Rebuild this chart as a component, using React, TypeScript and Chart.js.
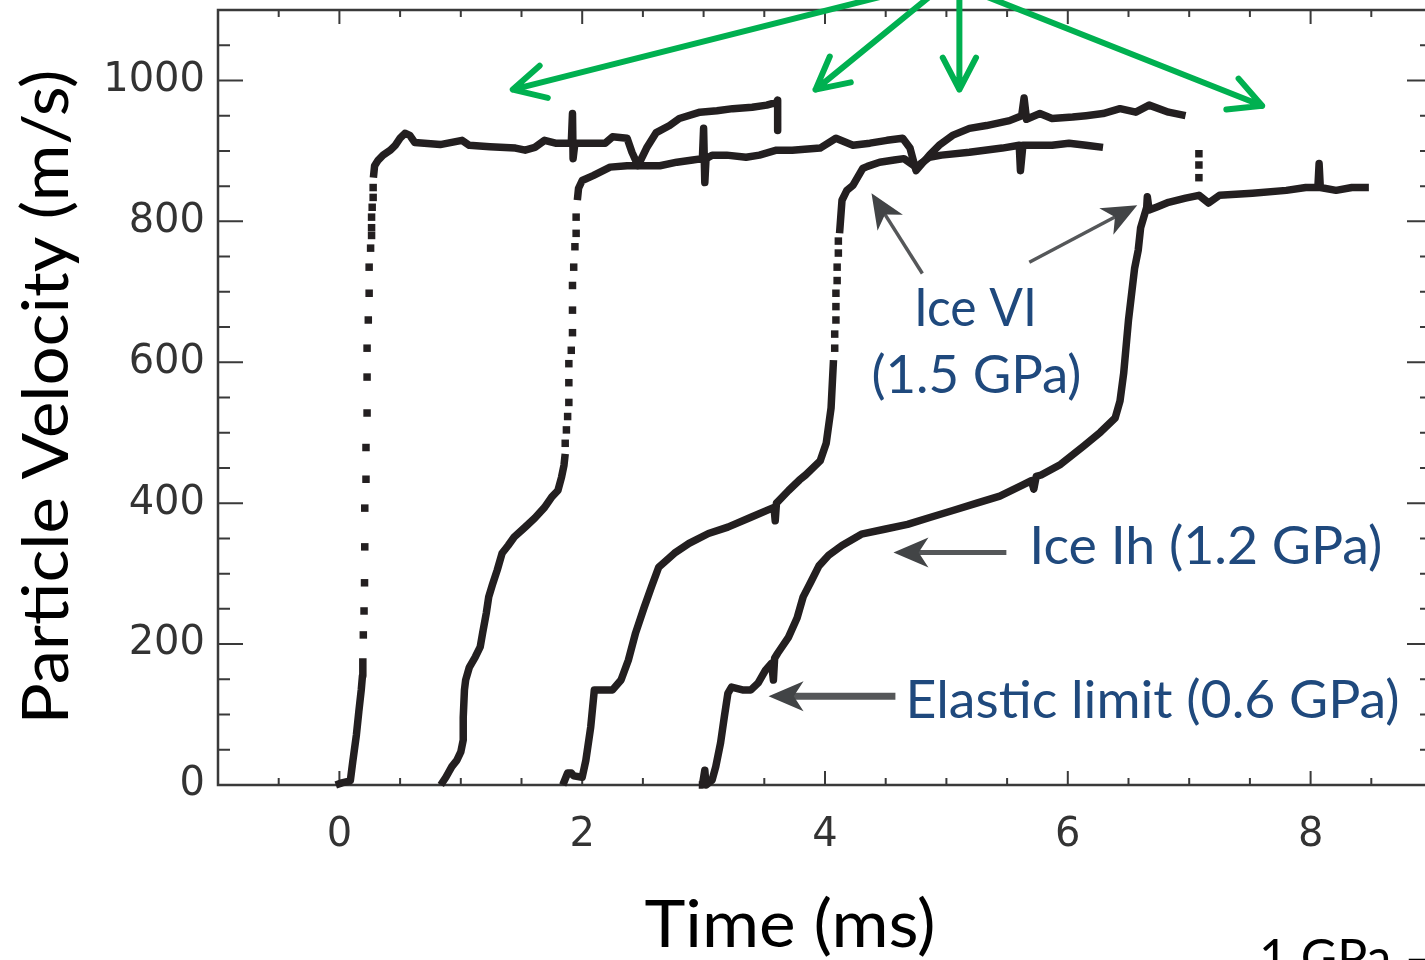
import { useEffect, useRef } from 'react';
import { Chart, registerables } from 'chart.js';

Chart.register(...registerables);

type Pt = [number, number];

// Axis ticks (time in ms, particle velocity in m/s)
const xTicks = [0, 2, 4, 6, 8];
const yTicks = [0, 200, 400, 600, 800, 1000];

// Shot 1
const shot1Foot: Pt[] = [
  [-0.03, 0], [0.02, 3], [0.09, 6], [0.11, 33], [0.14, 71], [0.16, 104], [0.18, 135], [0.19, 155], [0.193, 180],
];
const shot1Dots: Pt[] = [
  [0.197, 213], [0.203, 247], [0.207, 287], [0.209, 338], [0.209, 393], [0.219, 434], [0.219, 479], [0.228, 528],
  [0.228, 579], [0.228, 620], [0.238, 660], [0.245, 698], [0.245, 735], [0.257, 762], [0.265, 780], [0.265, 791],
  [0.265, 806], [0.27, 820], [0.278, 834], [0.278, 848],
];
const shot1Top: Pt[] = [
  [0.28, 862], [0.29, 879], [0.32, 887], [0.36, 894], [0.42, 901], [0.46, 908], [0.5, 918], [0.54, 925], [0.58, 922],
  [0.62, 912], [0.7, 911], [0.83, 909], [1.01, 915], [1.07, 908], [1.24, 906], [1.45, 904], [1.53, 901], [1.61, 905],
  [1.69, 915], [1.78, 911], [1.91, 911], [1.92, 953], [1.925, 889], [1.94, 911], [2.07, 911], [2.19, 911], [2.25, 920],
  [2.37, 918], [2.41, 898], [2.46, 879], [2.53, 904], [2.61, 926], [2.72, 936], [2.8, 946], [2.97, 955], [3.11, 957],
  [3.24, 960], [3.4, 962], [3.52, 965], [3.6, 969], [3.61, 972], [3.61, 929],
];

// Shot 2
const shot2Foot: Pt[] = [
  [0.835, 0], [0.877, 11], [0.926, 26], [0.967, 35], [1.0, 47], [1.02, 64], [1.02, 96], [1.03, 135], [1.04, 149],
  [1.07, 167], [1.12, 182], [1.16, 196], [1.18, 216], [1.21, 244], [1.23, 267], [1.26, 284], [1.3, 305], [1.34, 329],
  [1.39, 340], [1.44, 352], [1.53, 366], [1.61, 379], [1.69, 394], [1.75, 409], [1.8, 418], [1.83, 437], [1.85, 454],
  [1.86, 470],
];
const shot2Dots: Pt[] = [
  [1.86, 485], [1.87, 504], [1.88, 523], [1.89, 543], [1.89, 571], [1.89, 598], [1.91, 617], [1.92, 642], [1.92, 674],
  [1.92, 709], [1.93, 735], [1.94, 764], [1.95, 783], [1.95, 806],
];
const shot2Top: Pt[] = [
  [1.96, 830], [1.97, 847], [2.0, 858], [2.09, 865], [2.23, 877], [2.37, 879], [2.47, 879], [2.64, 879], [2.78, 884],
  [2.91, 887], [2.99, 889], [3.0, 932], [3.01, 855], [3.02, 889], [3.07, 894], [3.19, 894], [3.35, 891], [3.46, 894],
  [3.6, 901], [3.73, 901], [3.96, 904], [4.09, 918], [4.23, 908], [4.37, 911], [4.51, 915], [4.64, 918], [4.7, 904],
  [4.75, 872], [4.86, 894], [4.94, 908], [5.05, 922], [5.19, 932], [5.33, 936], [5.52, 943], [5.62, 950], [5.64, 975],
  [5.66, 945], [5.77, 953], [5.87, 946], [6.04, 948], [6.15, 950], [6.29, 953], [6.43, 960], [6.56, 955], [6.67, 965],
  [6.83, 955], [6.97, 950],
];

// Shot 3
const shot3Foot: Pt[] = [
  [1.84, 0], [1.88, 17], [1.91, 17], [1.93, 13], [2.0, 11], [2.03, 35], [2.07, 82], [2.1, 135], [2.14, 135],
  [2.25, 135], [2.32, 149], [2.38, 177], [2.44, 216], [2.51, 252], [2.57, 281], [2.63, 309], [2.76, 329], [2.88, 343],
  [3.04, 357], [3.2, 366], [3.39, 380], [3.58, 394], [3.59, 375], [3.6, 400], [3.7, 418], [3.79, 433], [3.84, 440],
  [3.96, 460], [4.01, 485], [4.05, 535], [4.07, 603],
];
const shot3Dots: Pt[] = [
  [4.08, 620], [4.08, 640], [4.09, 660], [4.09, 679], [4.09, 698], [4.1, 716], [4.1, 735], [4.11, 755], [4.11, 772],
];
const shot3Top: Pt[] = [
  [4.12, 783], [4.14, 830], [4.18, 844], [4.23, 851], [4.31, 875], [4.35, 878], [4.45, 884], [4.57, 887], [4.65, 889],
  [4.75, 877], [4.86, 891], [4.96, 894], [5.19, 898], [5.46, 904], [5.6, 908], [5.61, 872], [5.63, 908], [5.87, 908],
  [6.01, 911], [6.15, 908], [6.29, 905],
];

// Shot 4
const shot4Trace: Pt[] = [
  [2.96, 0], [2.99, 0], [3.01, 21], [3.02, 0], [3.07, 7], [3.1, 26], [3.14, 60], [3.17, 96], [3.2, 130], [3.23, 139],
  [3.32, 135], [3.39, 135], [3.45, 145], [3.51, 163], [3.56, 173], [3.575, 149], [3.585, 180], [3.61, 187], [3.7, 210],
  [3.77, 237], [3.82, 267], [3.88, 287], [3.95, 311], [4.03, 326], [4.14, 340], [4.3, 356], [4.49, 363], [4.68, 370],
  [4.87, 380], [5.06, 390], [5.25, 400], [5.44, 410], [5.63, 426], [5.7, 432], [5.72, 420], [5.74, 438], [5.78, 440],
  [5.94, 455], [6.13, 481], [6.27, 501], [6.39, 521], [6.43, 545], [6.46, 584], [6.5, 660], [6.55, 733], [6.58, 759],
  [6.6, 791], [6.65, 820], [6.655, 835], [6.67, 816], [6.73, 820], [6.83, 827], [6.97, 833], [7.08, 837], [7.16, 826],
  [7.25, 837], [7.52, 840], [7.8, 844], [7.96, 848], [8.06, 848], [8.07, 882], [8.08, 848], [8.21, 844], [8.34, 848],
  [8.48, 848],
];
const shot4Dots: Pt[] = [[7.08, 896], [7.08, 880], [7.08, 862]];

// Callouts, positioned in data units (time, velocity)
const grayArrows = [
  { tip: [4.383, 840], tail: [4.802, 726], width: 3.5 },
  { tip: [6.572, 823], tail: [5.683, 742], width: 3.5 },
  { tip: [4.564, 330], tail: [5.494, 330], width: 5 },
  { tip: [3.535, 126], tail: [4.58, 126], width: 7 },
];
const greenArrows = [
  { tip: [1.428, 987], tail: [4.671, 1128] },
  { tip: [3.922, 987], tail: [4.926, 1128] },
  { tip: [5.107, 987], tail: [5.107, 1128] },
  { tip: [7.601, 964], tail: [5.198, 1128] },
];
const phaseLabels = [
  { text: 'Ice VI', at: [5.239, 652], width: 123, align: 'center' },
  { text: '(1.5 GPa)', at: [5.247, 556], width: 210, align: 'center' },
  { text: 'Ice Ih (1.2 GPa)', at: [5.683, 313], width: 353, align: 'left' },
  { text: 'Elastic limit (0.6 GPa)', at: [4.663, 95], width: 494, align: 'left' },
];

const INK = '#231f20';
const LABEL_BLUE = '#1F497D';
const GREEN = '#00B050';

const toXY = (pts: Pt[]) => pts.map(([x, y]) => ({ x, y }));

const lineSet = (pts: Pt[]) => ({
  data: toXY(pts),
  showLine: true,
  borderColor: INK,
  borderWidth: 7.5,
  borderJoinStyle: 'round' as const,
  borderCapStyle: 'butt' as const,
  pointRadius: 0,
  tension: 0,
  clip: 10,
});
const dotSet = (pts: Pt[]) => ({
  data: toXY(pts),
  showLine: false,
  pointStyle: 'rect' as const,
  pointRadius: 5.3,
  pointBorderWidth: 0,
  pointBackgroundColor: INK,
  pointBorderColor: INK,
  clip: 10,
});

function fitText(
  ctx: CanvasRenderingContext2D, text: string, x: number, y: number,
  width: number | null, size: number, color: string, align: string, rotate = false,
) {
  ctx.save();
  ctx.font = `${size}px Lato`;
  ctx.fillStyle = color;
  ctx.textBaseline = 'alphabetic';
  ctx.textAlign = 'left';
  const w = ctx.measureText(text).width;
  ctx.translate(x, y);
  if (rotate) ctx.rotate(-Math.PI / 2);
  if (width) ctx.scale(width / w, 1);
  ctx.fillText(text, align === 'center' ? -w / 2 : 0, 0);
  ctx.restore();
}

const framePlugin = {
  id: 'frameTicks',
  beforeDatasetsDraw(chart: any) {
    const { ctx, chartArea: a, scales } = chart;
    const sx = scales.x;
    const sy = scales.y;
    ctx.save();
    ctx.strokeStyle = '#3a3a3a';
    ctx.lineWidth = 2;
    ctx.beginPath();
    for (let t = -1; t <= 9.001; t += 0.5) {
      const px = sx.getPixelForValue(t);
      const len = Math.abs(t % 2) < 1e-6 ? 14 : 7;
      ctx.moveTo(px, a.bottom);
      ctx.lineTo(px, a.bottom - len);
      ctx.moveTo(px, a.top);
      ctx.lineTo(px, a.top + len);
    }
    for (let v = 0; v <= 1100; v += 50) {
      const py = sy.getPixelForValue(v);
      const len = v % 200 === 0 ? 25 : 12;
      ctx.moveTo(a.left, py);
      ctx.lineTo(a.left + len, py);
      ctx.moveTo(a.right, py);
      ctx.lineTo(a.right - len, py);
    }
    ctx.stroke();
    ctx.lineWidth = 2.5;
    ctx.strokeRect(a.left, a.top, a.right - a.left, a.bottom - a.top);
    ctx.restore();
  },
};

const notesPlugin = {
  id: 'notes',
  afterDatasetsDraw(chart: any) {
    const { ctx, scales } = chart;
    const px = (p: number[]) => [scales.x.getPixelForValue(p[0]), scales.y.getPixelForValue(p[1])];
    ctx.save();

    // green pointers from above the frame
    ctx.strokeStyle = GREEN;
    ctx.lineWidth = 6;
    ctx.lineCap = 'round';
    ctx.lineJoin = 'round';
    for (const g of greenArrows) {
      const [tx, ty] = px(g.tip);
      const [sx, sy] = px(g.tail);
      const ang = Math.atan2(ty - sy, tx - sx);
      ctx.beginPath();
      ctx.moveTo(sx, sy);
      ctx.lineTo(tx, ty);
      const L = 36;
      const spread = 0.48;
      ctx.moveTo(tx - L * Math.cos(ang - spread), ty - L * Math.sin(ang - spread));
      ctx.lineTo(tx, ty);
      ctx.lineTo(tx - L * Math.cos(ang + spread), ty - L * Math.sin(ang + spread));
      ctx.stroke();
    }

    // gray callout arrows
    for (const g of grayArrows) {
      const [tx, ty] = px(g.tip);
      const [sx, sy] = px(g.tail);
      const ang = Math.atan2(ty - sy, tx - sx);
      const ux = Math.cos(ang);
      const uy = Math.sin(ang);
      const L = 35;
      const W = 15;
      ctx.strokeStyle = '#555759';
      ctx.lineWidth = g.width;
      ctx.lineCap = 'butt';
      ctx.beginPath();
      ctx.moveTo(sx, sy);
      ctx.lineTo(tx - ux * L * 0.6, ty - uy * L * 0.6);
      ctx.stroke();
      ctx.fillStyle = '#424446';
      ctx.beginPath();
      ctx.moveTo(tx, ty);
      ctx.lineTo(tx - ux * L - uy * W, ty - uy * L + ux * W);
      ctx.lineTo(tx - ux * L * 0.72, ty - uy * L * 0.72);
      ctx.lineTo(tx - ux * L + uy * W, ty - uy * L - ux * W);
      ctx.closePath();
      ctx.fill();
    }

    for (const l of phaseLabels) {
      const [x, y] = px(l.at);
      fitText(ctx, l.text, x, y, l.width, 52, LABEL_BLUE, l.align);
    }

    // axis titles
    fitText(ctx, 'Particle Velocity (m/s)', 68, 397, 655, 64, '#000', 'center', true);
    fitText(ctx, 'Time (ms)', 790, 947, 291, 65, '#000', 'center');
    fitText(ctx, '1 GPa –', 1259, 975, null, 50, '#000', 'left');
    ctx.restore();
  },
};

export default function App() {
  const ref = useRef<HTMLCanvasElement>(null);

  useEffect(() => {
    const canvas = ref.current;
    if (!canvas) return;
    const chart = new Chart(canvas, {
      type: 'scatter',
      data: {
        datasets: [
          lineSet(shot1Foot), dotSet(shot1Dots), lineSet(shot1Top),
          lineSet(shot2Foot), dotSet(shot2Dots), lineSet(shot2Top),
          lineSet(shot3Foot), dotSet(shot3Dots), lineSet(shot3Top),
          lineSet(shot4Trace), dotSet(shot4Dots),
        ] as any,
      },
      options: {
        animation: false,
        responsive: false,
        devicePixelRatio: 1,
        layout: { padding: { top: 10, right: 8, left: 0, bottom: 0 } },
        plugins: { legend: { display: false }, tooltip: { enabled: false } },
        scales: {
          x: {
            type: 'linear',
            min: -1,
            max: 9,
            grid: { display: false, drawTicks: false },
            border: { display: false },
            ticks: {
              font: { family: 'DejaVu Sans', size: 40 },
              color: '#333',
              padding: 27,
              callback: (v: number) => String(v),
            },
            afterBuildTicks: (s: any) => { s.ticks = xTicks.map((value) => ({ value })); },
            afterFit: (s: any) => { s.height = 175; s.paddingLeft = 0; s.paddingRight = 0; },
          },
          y: {
            type: 'linear',
            min: 0,
            max: 1100,
            grid: { display: false, drawTicks: false },
            border: { display: false },
            ticks: {
              font: { family: 'DejaVu Sans', size: 40 },
              color: '#333',
              padding: 13,
              callback: (v: number) => String(v),
            },
            afterBuildTicks: (s: any) => { s.ticks = yTicks.map((value) => ({ value })); },
            afterFit: (s: any) => { s.width = 218; s.paddingTop = 0; s.paddingBottom = 0; },
          },
        },
      } as any,
      plugins: [framePlugin, notesPlugin],
    });
    return () => chart.destroy();
  }, []);

  return (
    <div style={{ position: 'absolute', left: 0, top: 0, width: 1425, height: 960, overflow: 'hidden', background: '#fff' }}>
      <canvas ref={ref} width={1440} height={960} style={{ display: 'block' }} />
    </div>
  );
}
